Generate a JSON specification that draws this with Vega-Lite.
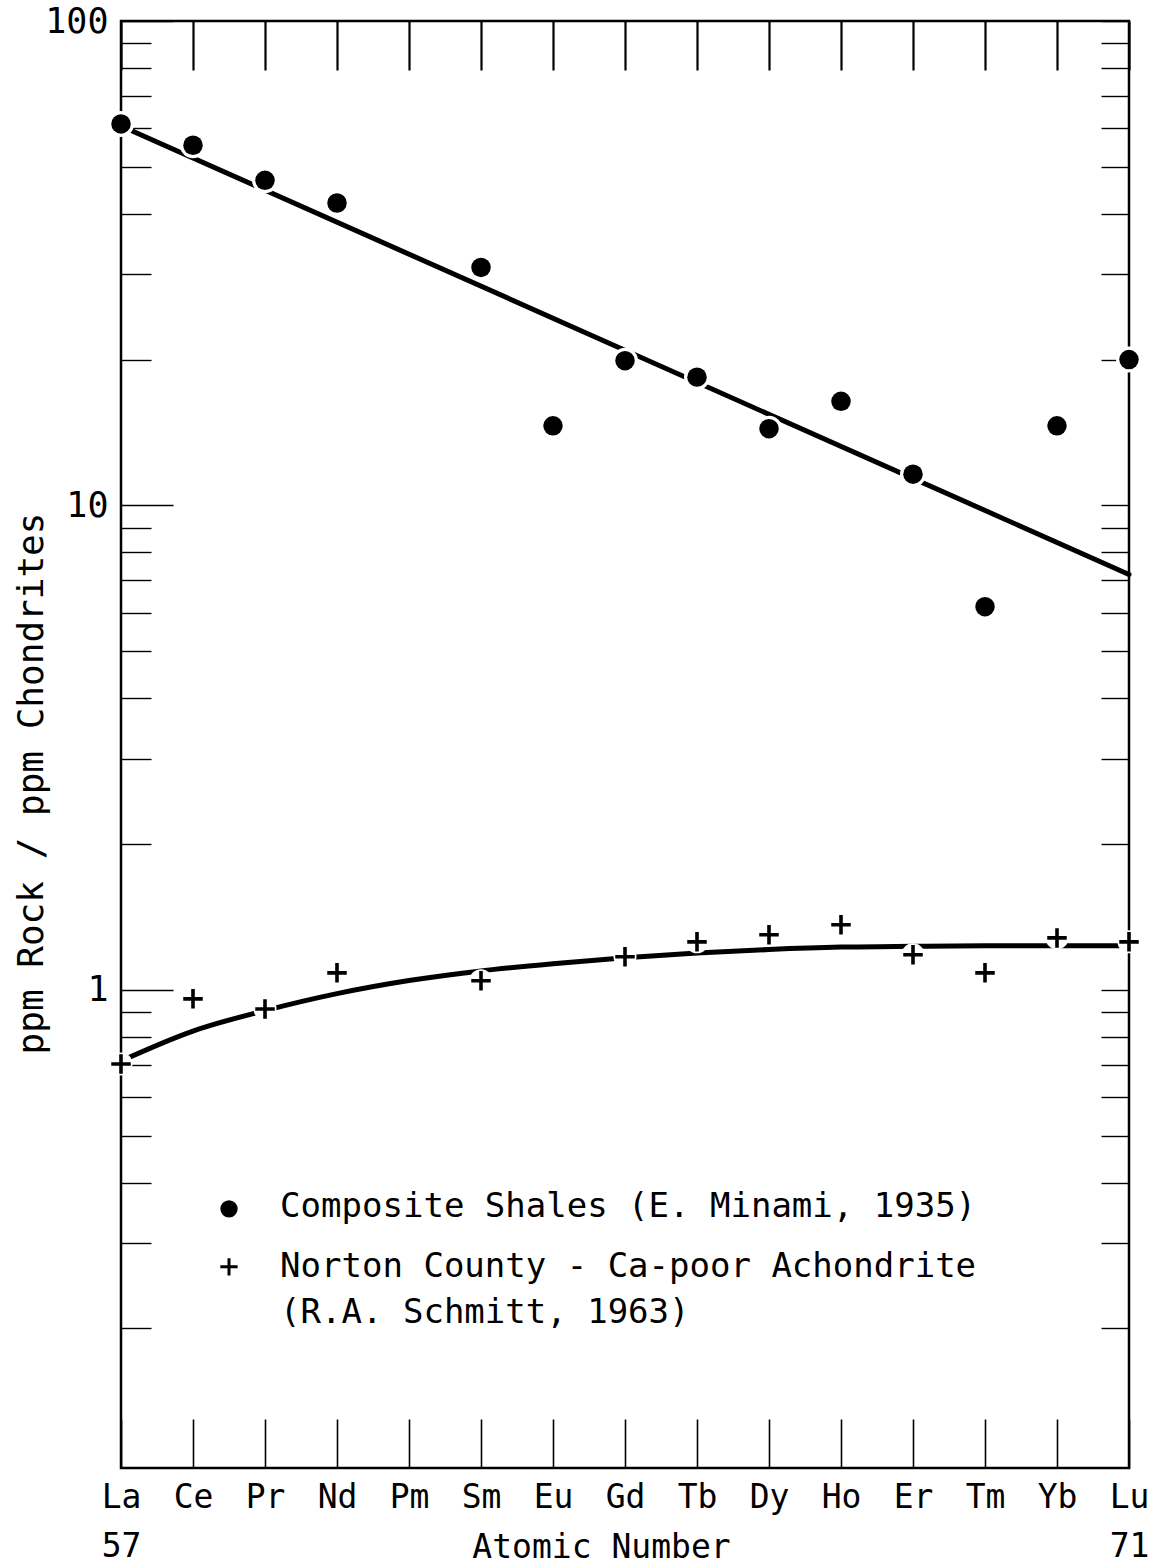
{
  "$schema": "https://vega.github.io/schema/vega-lite/v6.json",
  "width": 1008,
  "height": 1447,
  "autosize": {"type": "none"},
  "padding": {"left": 121, "top": 21, "right": 20, "bottom": 96},
  "background": "white",
  "config": {
    "view": {"stroke": "black", "strokeWidth": 2.5},
    "font": "DejaVu Sans Mono",
    "axis": {
      "grid": false,
      "domain": false,
      "tickColor": "black",
      "labelColor": "black",
      "titleColor": "black",
      "labelFont": "DejaVu Sans Mono",
      "titleFont": "DejaVu Sans Mono",
      "titleFontWeight": "normal",
      "labelOverlap": false,
      "labelFlush": false,
      "labelBound": false
    }
  },
  "datasets": {
    "shales": [
      {"element": "La", "z": 57, "ratio": 61.3},
      {"element": "Ce", "z": 58, "ratio": 55.4},
      {"element": "Pr", "z": 59, "ratio": 46.9},
      {"element": "Nd", "z": 60, "ratio": 42.1},
      {"element": "Sm", "z": 62, "ratio": 31.0},
      {"element": "Eu", "z": 63, "ratio": 14.6},
      {"element": "Gd", "z": 64, "ratio": 19.9},
      {"element": "Tb", "z": 65, "ratio": 18.4},
      {"element": "Dy", "z": 66, "ratio": 14.4},
      {"element": "Ho", "z": 67, "ratio": 16.4},
      {"element": "Er", "z": 68, "ratio": 11.6},
      {"element": "Tm", "z": 69, "ratio": 6.18},
      {"element": "Yb", "z": 70, "ratio": 14.6},
      {"element": "Lu", "z": 71, "ratio": 20.0}
    ],
    "norton": [
      {"element": "La", "z": 57, "ratio": 0.703},
      {"element": "Ce", "z": 58, "ratio": 0.958},
      {"element": "Pr", "z": 59, "ratio": 0.913},
      {"element": "Nd", "z": 60, "ratio": 1.084},
      {"element": "Sm", "z": 62, "ratio": 1.044},
      {"element": "Gd", "z": 64, "ratio": 1.170},
      {"element": "Tb", "z": 65, "ratio": 1.256},
      {"element": "Dy", "z": 66, "ratio": 1.299},
      {"element": "Ho", "z": 67, "ratio": 1.362},
      {"element": "Er", "z": 68, "ratio": 1.181},
      {"element": "Tm", "z": 69, "ratio": 1.084},
      {"element": "Yb", "z": 70, "ratio": 1.280},
      {"element": "Lu", "z": 71, "ratio": 1.256}
    ],
    "shales_fit": [
      {"z": 57, "ratio": 60.7},
      {"z": 71, "ratio": 7.2}
    ],
    "norton_fit": [
      {"z": 57, "ratio": 0.713},
      {"z": 58, "ratio": 0.822},
      {"z": 59, "ratio": 0.906},
      {"z": 60, "ratio": 0.982},
      {"z": 61, "ratio": 1.045},
      {"z": 62, "ratio": 1.094},
      {"z": 63, "ratio": 1.132},
      {"z": 64, "ratio": 1.164},
      {"z": 65, "ratio": 1.191},
      {"z": 66, "ratio": 1.211},
      {"z": 67, "ratio": 1.225},
      {"z": 68, "ratio": 1.230},
      {"z": 69, "ratio": 1.233},
      {"z": 71, "ratio": 1.233}
    ],
    "legend_anchor": [{}]
  },
  "resolve": {"axis": {"x": "independent", "y": "independent"}},
  "layer": [
    {
      "data": {"name": "shales_fit"},
      "mark": {"type": "line", "color": "black", "strokeWidth": 5, "strokeCap": "round"},
      "encoding": {
        "x": {
          "field": "z", "type": "quantitative",
          "scale": {"domain": [57, 71], "nice": false, "zero": false},
          "axis": {
            "orient": "bottom",
            "values": [57, 58, 59, 60, 61, 62, 63, 64, 65, 66, 67, 68, 69, 70, 71],
            "tickSize": -49,
            "tickWidth": 1.6,
            "labelFontSize": 33,
            "labelBaseline": "top",
            "labelAlign": "center",
            "labelPadding": 62,
            "labelLineHeight": 49,
            "labelExpr": "datum.value == 57 ? ['La', '57'] : datum.value == 71 ? ['Lu', '71'] : ['La','Ce','Pr','Nd','Pm','Sm','Eu','Gd','Tb','Dy','Ho','Er','Tm','Yb','Lu'][datum.value - 57]",
            "title": "Atomic Number",
            "titleFontSize": 33,
            "titleX": 480,
            "titleY": 79,
            "titleBaseline": "middle",
            "titleAlign": "center"
          }
        },
        "y": {
          "field": "ratio", "type": "quantitative",
          "scale": {"type": "log", "domain": [0.103, 100], "nice": false},
          "axis": {
            "orient": "left",
            "values": [0.2, 0.3, 0.4, 0.5, 0.6, 0.7, 0.8, 0.9, 1, 2, 3, 4, 5, 6, 7, 8, 9, 10, 20, 30, 40, 50, 60, 70, 80, 90, 100],
            "tickSize": {"condition": {"test": "indexof([1, 10, 100], datum.value) >= 0", "value": -52}, "value": -30},
            "tickWidth": 1.4,
            "labelFontSize": 35,
            "labelAlign": "right",
            "labelBaseline": "middle",
            "labelPadding": 65,
            "labelExpr": "indexof([1, 10, 100], datum.value) >= 0 ? format(datum.value, 'd') : ''",
            "title": "ppm Rock / ppm Chondrites",
            "titleFontSize": 36,
            "titleAngle": -90,
            "titleX": -90,
            "titleY": 762,
            "titleAlign": "center",
            "titleBaseline": "middle"
          }
        }
      }
    },
    {
      "data": {"name": "norton_fit"},
      "mark": {"type": "line", "color": "black", "strokeWidth": 5, "strokeCap": "round", "interpolate": "monotone"},
      "encoding": {
        "x": {
          "field": "z", "type": "quantitative",
          "scale": {"domain": [57, 71], "nice": false, "zero": false},
          "axis": {
            "orient": "top",
            "values": [57, 58, 59, 60, 61, 62, 63, 64, 65, 66, 67, 68, 69, 70, 71],
            "tickSize": -49,
            "tickWidth": 2.2,
            "labels": false,
            "title": null
          }
        },
        "y": {
          "field": "ratio", "type": "quantitative",
          "scale": {"type": "log", "domain": [0.103, 100], "nice": false},
          "axis": {
            "orient": "right",
            "values": [0.2, 0.3, 0.4, 0.5, 0.6, 0.7, 0.8, 0.9, 1, 2, 3, 4, 5, 6, 7, 8, 9, 10, 20, 30, 40, 50, 60, 70, 80, 90, 100],
            "tickSize": -28,
            "tickWidth": 1.4,
            "labels": false,
            "title": null
          }
        }
      }
    },
    {
      "data": {"name": "shales"},
      "mark": {"type": "point", "shape": "circle", "filled": true, "color": "white", "opacity": 1, "size": 676},
      "encoding": {
        "x": {"field": "z", "type": "quantitative", "scale": {"domain": [57, 71], "nice": false, "zero": false}, "axis": null},
        "y": {"field": "ratio", "type": "quantitative", "scale": {"type": "log", "domain": [0.103, 100], "nice": false}, "axis": null}
      }
    },
    {
      "data": {"name": "norton"},
      "mark": {"type": "point", "shape": "circle", "filled": true, "color": "white", "opacity": 1, "size": 530},
      "encoding": {
        "x": {"field": "z", "type": "quantitative", "scale": {"domain": [57, 71], "nice": false, "zero": false}, "axis": null},
        "y": {"field": "ratio", "type": "quantitative", "scale": {"type": "log", "domain": [0.103, 100], "nice": false}, "axis": null}
      }
    },
    {
      "data": {"name": "shales"},
      "mark": {"type": "point", "shape": "circle", "filled": true, "color": "black", "opacity": 1, "size": 380},
      "encoding": {
        "x": {"field": "z", "type": "quantitative", "scale": {"domain": [57, 71], "nice": false, "zero": false}, "axis": null},
        "y": {"field": "ratio", "type": "quantitative", "scale": {"type": "log", "domain": [0.103, 100], "nice": false}, "axis": null}
      }
    },
    {
      "data": {"name": "norton"},
      "mark": {"type": "point", "shape": "M-1,0H1M0,-1V1", "filled": false, "color": "black", "opacity": 1, "strokeWidth": 3.6, "size": 380},
      "encoding": {
        "x": {"field": "z", "type": "quantitative", "scale": {"domain": [57, 71], "nice": false, "zero": false}, "axis": null},
        "y": {"field": "ratio", "type": "quantitative", "scale": {"type": "log", "domain": [0.103, 100], "nice": false}, "axis": null}
      }
    },
    {
      "data": {"name": "legend_anchor"},
      "mark": {"type": "point", "shape": "circle", "filled": true, "color": "black", "opacity": 1, "size": 300},
      "encoding": {
        "x": {"datum": 58.5, "type": "quantitative", "scale": {"domain": [57, 71], "nice": false, "zero": false}, "axis": null},
        "y": {"datum": 0.353, "type": "quantitative", "scale": {"type": "log", "domain": [0.103, 100], "nice": false}, "axis": null}
      }
    },
    {
      "data": {"name": "legend_anchor"},
      "mark": {"type": "point", "shape": "M-1,0H1M0,-1V1", "filled": false, "color": "black", "opacity": 1, "strokeWidth": 3, "size": 300},
      "encoding": {
        "x": {"datum": 58.5, "type": "quantitative", "scale": {"domain": [57, 71], "nice": false, "zero": false}, "axis": null},
        "y": {"datum": 0.268, "type": "quantitative", "scale": {"type": "log", "domain": [0.103, 100], "nice": false}, "axis": null}
      }
    },
    {
      "data": {"name": "legend_anchor"},
      "mark": {"type": "text", "text": "Composite Shales (E. Minami, 1935)", "align": "left", "baseline": "middle", "fontSize": 34, "font": "DejaVu Sans Mono", "color": "black"},
      "encoding": {
        "x": {"datum": 59.21, "type": "quantitative", "scale": {"domain": [57, 71], "nice": false, "zero": false}, "axis": null},
        "y": {"datum": 0.356, "type": "quantitative", "scale": {"type": "log", "domain": [0.103, 100], "nice": false}, "axis": null}
      }
    },
    {
      "data": {"name": "legend_anchor"},
      "mark": {"type": "text", "text": "Norton County - Ca-poor Achondrite", "align": "left", "baseline": "middle", "fontSize": 34, "font": "DejaVu Sans Mono", "color": "black"},
      "encoding": {
        "x": {"datum": 59.21, "type": "quantitative", "scale": {"domain": [57, 71], "nice": false, "zero": false}, "axis": null},
        "y": {"datum": 0.268, "type": "quantitative", "scale": {"type": "log", "domain": [0.103, 100], "nice": false}, "axis": null}
      }
    },
    {
      "data": {"name": "legend_anchor"},
      "mark": {"type": "text", "text": "(R.A. Schmitt, 1963)", "align": "left", "baseline": "middle", "fontSize": 34, "font": "DejaVu Sans Mono", "color": "black"},
      "encoding": {
        "x": {"datum": 59.21, "type": "quantitative", "scale": {"domain": [57, 71], "nice": false, "zero": false}, "axis": null},
        "y": {"datum": 0.215, "type": "quantitative", "scale": {"type": "log", "domain": [0.103, 100], "nice": false}, "axis": null}
      }
    }
  ]
}
